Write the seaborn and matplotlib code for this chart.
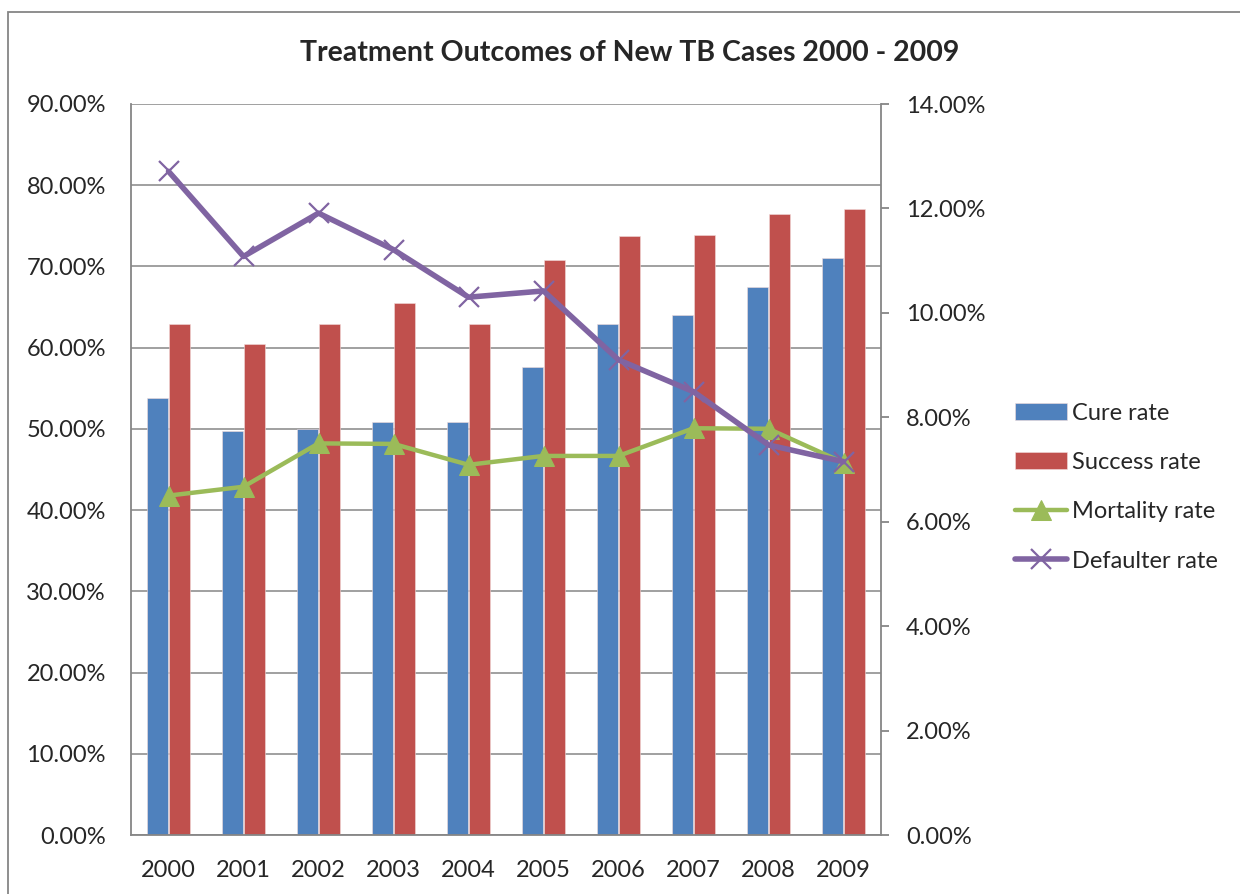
import numpy as np
import pandas as pd
import matplotlib
matplotlib.use("Agg")
import matplotlib.pyplot as plt
from matplotlib.patches import Rectangle
from matplotlib.ticker import PercentFormatter, MultipleLocator
import seaborn as sns

# values (percent)
years = [2000, 2001, 2002, 2003, 2004, 2005, 2006, 2007, 2008, 2009]
cure_rate = [53.8, 49.7, 50.0, 50.9, 50.8, 57.6, 62.9, 64.0, 67.5, 71.1]
success_rate = [62.9, 60.5, 62.9, 65.5, 62.9, 70.8, 73.8, 73.9, 76.4, 77.1]
mortality_rate = [6.50, 6.67, 7.50, 7.49, 7.09, 7.26, 7.26, 7.79, 7.78, 7.13]
defaulter_rate = [12.71, 11.08, 11.91, 11.21, 10.30, 10.42, 9.10, 8.49, 7.47, 7.15]

BLUE = "#4F81BD"
RED = "#C0504D"
GREEN = "#9BBB59"
PURPLE = "#8064A2"
GRID = "#868686"

sns.set_style("white")
plt.rcParams["font.family"] = ["Lato", "DejaVu Sans"]
plt.rcParams["font.size"] = 17

bars = pd.DataFrame({
    "Year": years * 2,
    "Rate": ["Cure rate"] * len(years) + ["Success rate"] * len(years),
    "Value": cure_rate + success_rate,
})

fig = plt.figure(figsize=(12.4, 8.94), dpi=100)
ax = fig.add_axes([131 / 1240, 1 - 835 / 894, 750 / 1240, 731 / 894])

sns.barplot(data=bars, x="Year", y="Value", hue="Rate", palette=[BLUE, RED],
            saturation=1, native_scale=True, width=0.575, errorbar=None, ax=ax,
            edgecolor="#F2DCDB", linewidth=0.4)

ax.set_xlim(years[0] - 0.5, years[-1] + 0.5)
ax.set_ylim(0, 90)
ax.yaxis.set_major_locator(MultipleLocator(10))
ax.yaxis.set_major_formatter(PercentFormatter(xmax=100, decimals=2))
ax.set_xticks(years)
ax.set_xticklabels([str(y) for y in years])
ax.grid(axis="y", color=GRID, linewidth=1.1)
ax.set_axisbelow(True)
ax.set_xlabel("")
ax.set_ylabel("")
ax.tick_params(axis="y", length=0, pad=18, labelsize=17)
ax.tick_params(axis="x", length=0, pad=18, labelsize=17)
for side in ["top", "right"]:
    ax.spines[side].set_visible(False)
for side in ["left", "bottom"]:
    ax.spines[side].set_color(GRID)
    ax.spines[side].set_linewidth(1.3)

# secondary axis for mortality / defaulter
ax2 = ax.twinx()
sns.lineplot(x=years, y=mortality_rate, ax=ax2, color=GREEN, linewidth=3.2,
             marker="^", markersize=15, markeredgecolor=GREEN, label="Mortality rate")
sns.lineplot(x=years, y=defaulter_rate, ax=ax2, color=PURPLE, linewidth=4,
             marker="x", markersize=15, markeredgewidth=1.6, markeredgecolor=PURPLE,
             label="Defaulter rate")
ax2.set_ylim(0, 14)
ax2.yaxis.set_major_locator(MultipleLocator(2))
ax2.yaxis.set_major_formatter(PercentFormatter(xmax=100, decimals=2))
ax2.tick_params(axis="y", length=6, width=1.3, color=GRID, pad=12, labelsize=17)
for side in ["top", "left", "bottom"]:
    ax2.spines[side].set_visible(False)
ax2.spines["right"].set_color(GRID)
ax2.spines["right"].set_linewidth(1.3)
ax2.set_ylabel("")

# combined legend
h1, l1 = ax.get_legend_handles_labels()
h2, l2 = ax2.get_legend_handles_labels()
if ax.get_legend():
    ax.get_legend().remove()
if ax2.get_legend():
    ax2.get_legend().remove()
fig.legend(h1 + h2, l1 + l2, loc="center left",
           bbox_to_anchor=(1015 / 1240, 1 - 487 / 894), frameon=False,
           borderpad=0, borderaxespad=0, handlelength=2.2, handletextpad=0.2,
           labelspacing=1.2, fontsize=17, numpoints=1)

fig.text(630 / 1240, 1 - 53 / 894, "Treatment Outcomes of New TB Cases 2000 - 2009",
         ha="center", va="center", fontsize=20.5, fontweight="bold")

# chart-area border
fig.add_artist(Rectangle((8 / 1240, -0.05), 1.1, 1.05 - 12 / 894,
                         transform=fig.transFigure, fill=False,
                         edgecolor=GRID, linewidth=1.3))

fig.savefig("out.png", dpi=100)
